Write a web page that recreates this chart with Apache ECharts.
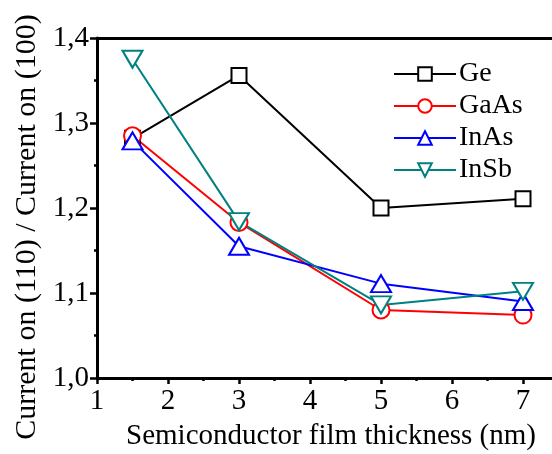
<!DOCTYPE html>
<html>
<head>
<meta charset="utf-8">
<script src="https://cdn.jsdelivr.net/npm/echarts@6/dist/echarts.min.js"></script>
<style>html,body{margin:0;padding:0;background:#fff;}#chart{width:552px;height:454px;}</style>
</head>
<body>
<div id="chart"></div>
<script>
var thickness = [1.5, 3, 5, 7];
var seriesNames = ['Ge', 'GaAs', 'InAs', 'InSb'];
var geValues = [1.282, 1.356, 1.200, 1.211];
var gaasValues = [1.285, 1.183, 1.080, 1.074];
var inasValues = [1.279, 1.155, 1.111, 1.090];
var insbValues = [1.375, 1.184, 1.086, 1.102];
var yTicks = ['1,0', '1,1', '1,2', '1,3', '1,4'];
var xTitle = 'Semiconductor film thickness (nm)';
var yTitle = 'Current on (110) / Current on (100)';

var FONT = '"Liberation Serif", "Times New Roman", serif';

function pairs(vals) { return thickness.map(function (x, i) { return [x, vals[i]]; }); }

function mk(name, vals, color, symbol, size, rot) {
  return {
    name: name, type: 'line', data: pairs(vals),
    symbol: symbol, symbolSize: size, symbolRotate: rot || 0,
    showAllSymbol: true,
    lineStyle: { color: color, width: 2 },
    itemStyle: { color: color, borderColor: color, borderWidth: 1.5 },
    emphasis: { disabled: true },
    animation: false
  };
}

var chart = echarts.init(document.getElementById('chart'), null, { renderer: 'canvas' });
chart.setOption({
  animation: false,
  backgroundColor: '#fff',
  grid: { left: 97, top: 38, width: 461.5, height: 340, show: false,
    containLabel: false, outerBoundsMode: 'none' },
  legend: {
    orient: 'vertical', left: 393, top: 60, padding: 0,
    itemWidth: 62, itemHeight: 17, itemGap: 4,
    data: seriesNames,
    textStyle: { fontFamily: FONT, fontSize: 28, color: '#000', lineHeight: 28, padding: [0, 0, 0, -2] },
    selectedMode: false
  },
  xAxis: [{
    type: 'value', min: 1, max: 7.5, interval: 1,
    axisLine: { show: true, lineStyle: { color: '#000', width: 3 } },
    axisTick: { show: true, length: 6, lineStyle: { color: '#000', width: 2.5 } },
    minorTick: { show: true, splitNumber: 2, length: 3, lineStyle: { color: '#000', width: 2.5 } },
    splitLine: { show: false },
    axisLabel: { fontFamily: FONT, fontSize: 29, color: '#000', margin: 9,
      formatter: function (v) { return Number.isInteger(v) ? String(v) : ''; } }
  }, {
    type: 'value', position: 'top', min: 1, max: 7.5, interval: 1,
    axisLine: { show: true, lineStyle: { color: '#000', width: 3 } },
    axisTick: { show: false }, axisLabel: { show: false }, splitLine: { show: false }
  }],
  yAxis: {
    type: 'value', min: 1.0, max: 1.4, interval: 0.1,
    axisLine: { show: true, lineStyle: { color: '#000', width: 3 } },
    axisTick: { show: true, length: 7, lineStyle: { color: '#000', width: 2.5 } },
    minorTick: { show: true, splitNumber: 2, length: 3, lineStyle: { color: '#000', width: 2.5 } },
    splitLine: { show: false },
    axisLabel: { fontFamily: FONT, fontSize: 29, color: '#000', margin: 8,
      formatter: function (v) { return yTicks[Math.round((v - 1) * 10)]; } }
  },
  graphic: [
    { type: 'text', x: 331, y: 422, style: { text: xTitle, font: '29px ' + FONT, fill: '#000', align: 'center', verticalAlign: 'top' } },
    { type: 'text', x: 12, y: 227, rotation: Math.PI / 2, style: { text: yTitle, font: '30px ' + FONT, fill: '#000', align: 'center', verticalAlign: 'top' } }
  ],
  series: [
    mk('Ge', geValues, '#000000', 'emptyRect', 15),
    mk('GaAs', gaasValues, '#ff0000', 'emptyCircle', 17),
    mk('InAs', inasValues, '#0000ff', 'emptyTriangle', [20, 17]),
    mk('InSb', insbValues, '#008080', 'emptyTriangle', [20, 17], 180)
  ]
});
</script>
</body>
</html>
